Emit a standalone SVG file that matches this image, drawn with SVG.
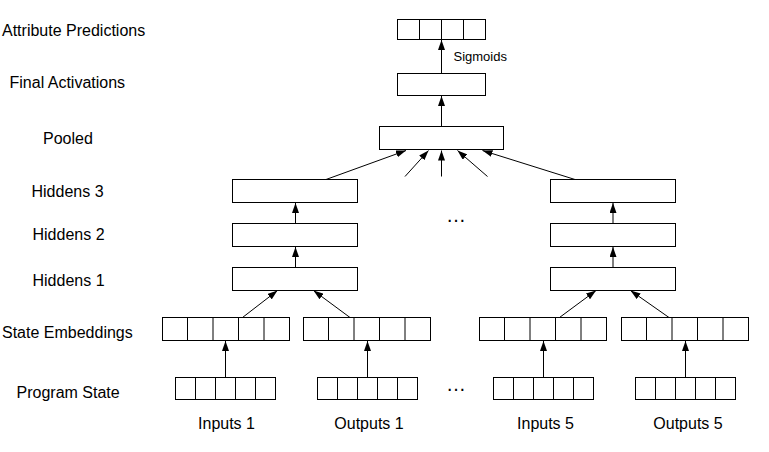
<svg xmlns="http://www.w3.org/2000/svg" width="769" height="452" viewBox="0 0 769 452">
  <style>
    .box { fill: #fff; stroke: #000; stroke-width: 1; }
    .div { stroke: #000; stroke-width: 1; }
    .edge { fill: none; stroke: #000; stroke-width: 1; marker-end: url(#head); }
    .lbl { font-family: "Liberation Sans", Arial, sans-serif; font-size: 16px; fill: #000; }
    .mid { text-anchor: middle; }
    .small { font-family: "Liberation Sans", Arial, sans-serif; font-size: 13px; fill: #000; }
  </style>
  <defs>
    <marker id="head" markerUnits="userSpaceOnUse" markerWidth="10" markerHeight="7" refX="10" refY="3.5" orient="auto">
      <path d="M0,0 L10,3.5 L0,7 z" fill="#000"/>
    </marker>
  </defs>

  <rect width="769" height="452" fill="#fff"/>

  <!-- layer names -->
  <g id="layer-labels">
    <text class="lbl" x="2" y="35.5">Attribute Predictions</text>
    <text class="lbl" x="9.5" y="87.5">Final Activations</text>
    <text class="lbl" x="43" y="144">Pooled</text>
    <text class="lbl" x="31.5" y="197">Hiddens 3</text>
    <text class="lbl" x="32.5" y="240">Hiddens 2</text>
    <text class="lbl" x="32.5" y="285.5">Hiddens 1</text>
    <text class="lbl" x="2" y="338">State Embeddings</text>
    <text class="lbl" x="16.5" y="398">Program State</text>
  </g>

  <!-- connectors -->
  <g id="connectors">
    <line class="edge" x1="441.5" y1="73.5" x2="441.5" y2="40"/>
    <line class="edge" x1="441.5" y1="126.5" x2="441.5" y2="96"/>
    <line class="edge" x1="326" y1="179.5" x2="406" y2="150.5"/>
    <line class="edge" x1="405" y1="176.5" x2="428.5" y2="150.5"/>
    <line class="edge" x1="441.5" y1="176.5" x2="441.5" y2="150.5"/>
    <line class="edge" x1="487.5" y1="176.5" x2="457.5" y2="150.5"/>
    <line class="edge" x1="575" y1="179.5" x2="482.5" y2="150.5"/>
    <line class="edge" x1="295.5" y1="223.5" x2="295.5" y2="203"/>
    <line class="edge" x1="295.5" y1="267.5" x2="295.5" y2="247"/>
    <line class="edge" x1="613" y1="223.5" x2="613" y2="203"/>
    <line class="edge" x1="613" y1="267.5" x2="613" y2="247"/>
    <line class="edge" x1="242.5" y1="317.5" x2="277.5" y2="290.5"/>
    <line class="edge" x1="350" y1="317.5" x2="313.5" y2="290.5"/>
    <line class="edge" x1="559.5" y1="317.5" x2="596" y2="290.5"/>
    <line class="edge" x1="669" y1="317.5" x2="630.5" y2="290.5"/>
    <line class="edge" x1="225.5" y1="377.5" x2="225.5" y2="341"/>
    <line class="edge" x1="367.5" y1="377.5" x2="367.5" y2="341"/>
    <line class="edge" x1="543.5" y1="377.5" x2="543.5" y2="341"/>
    <line class="edge" x1="685.5" y1="377.5" x2="685.5" y2="341"/>
    <text class="small" x="453.5" y="61">Sigmoids</text>
  </g>

  <g id="attribute-predictions">
    <rect class="box" x="397.5" y="19.5" width="88" height="20"/>
    <path class="div" d="M419.5,19.5V39.5M441.5,19.5V39.5M463.5,19.5V39.5"/>
  </g>
  <g id="final-activations">
    <rect class="box" x="397.5" y="73.5" width="88" height="22"/>
  </g>
  <g id="pooled">
    <rect class="box" x="379.5" y="126.5" width="124" height="23"/>
  </g>

  <g id="hiddens3-left"><rect class="box" x="232.5" y="179.5" width="125" height="23"/></g>
  <g id="hiddens2-left"><rect class="box" x="232.5" y="223.5" width="125" height="23"/></g>
  <g id="hiddens1-left"><rect class="box" x="232.5" y="267.5" width="125" height="23"/></g>
  <g id="hiddens3-right"><rect class="box" x="550.5" y="179.5" width="125" height="23"/></g>
  <g id="hiddens2-right"><rect class="box" x="550.5" y="223.5" width="125" height="23"/></g>
  <g id="hiddens1-right"><rect class="box" x="550.5" y="267.5" width="125" height="23"/></g>

  <g id="ellipsis-upper"><text class="lbl mid" x="456" y="222" style="font-size:20px">…</text></g>

  <!-- state embeddings: 5 cells each -->
  <g id="embed-inputs1">
    <rect class="box" x="162.5" y="317.5" width="127" height="23"/>
    <path class="div" d="M187.5,317.5V340.5M213,317.5V340.5M238.5,317.5V340.5M264,317.5V340.5"/>
  </g>
  <g id="embed-outputs1">
    <rect class="box" x="303.5" y="317.5" width="127" height="23"/>
    <path class="div" d="M328.5,317.5V340.5M354,317.5V340.5M379.5,317.5V340.5M405,317.5V340.5"/>
  </g>
  <g id="embed-inputs5">
    <rect class="box" x="479.5" y="317.5" width="127" height="23"/>
    <path class="div" d="M504.5,317.5V340.5M530,317.5V340.5M555.5,317.5V340.5M581,317.5V340.5"/>
  </g>
  <g id="embed-outputs5">
    <rect class="box" x="621.5" y="317.5" width="127" height="23"/>
    <path class="div" d="M646.5,317.5V340.5M672,317.5V340.5M697.5,317.5V340.5M723,317.5V340.5"/>
  </g>

  <!-- program state vectors -->
  <g id="state-inputs1">
    <rect class="box" x="175.5" y="377.5" width="100" height="22"/>
    <path class="div" d="M195.5,377.5V399.5M215.5,377.5V399.5M235.5,377.5V399.5M255.5,377.5V399.5"/>
    <text class="lbl mid" x="226.5" y="429">Inputs 1</text>
  </g>
  <g id="state-outputs1">
    <rect class="box" x="317.5" y="377.5" width="100" height="22"/>
    <path class="div" d="M337.5,377.5V399.5M357.5,377.5V399.5M377.5,377.5V399.5M397.5,377.5V399.5"/>
    <text class="lbl mid" x="369" y="429">Outputs 1</text>
  </g>
  <g id="ellipsis-lower"><text class="lbl mid" x="456" y="391" style="font-size:20px">…</text></g>
  <g id="state-inputs5">
    <rect class="box" x="493.5" y="377.5" width="100" height="22"/>
    <path class="div" d="M513.5,377.5V399.5M533.5,377.5V399.5M553.5,377.5V399.5M573.5,377.5V399.5"/>
    <text class="lbl mid" x="545.5" y="429">Inputs 5</text>
  </g>
  <g id="state-outputs5">
    <rect class="box" x="635.5" y="377.5" width="100" height="22"/>
    <path class="div" d="M655.5,377.5V399.5M675.5,377.5V399.5M695.5,377.5V399.5M715.5,377.5V399.5"/>
    <text class="lbl mid" x="688" y="429">Outputs 5</text>
  </g>
</svg>
